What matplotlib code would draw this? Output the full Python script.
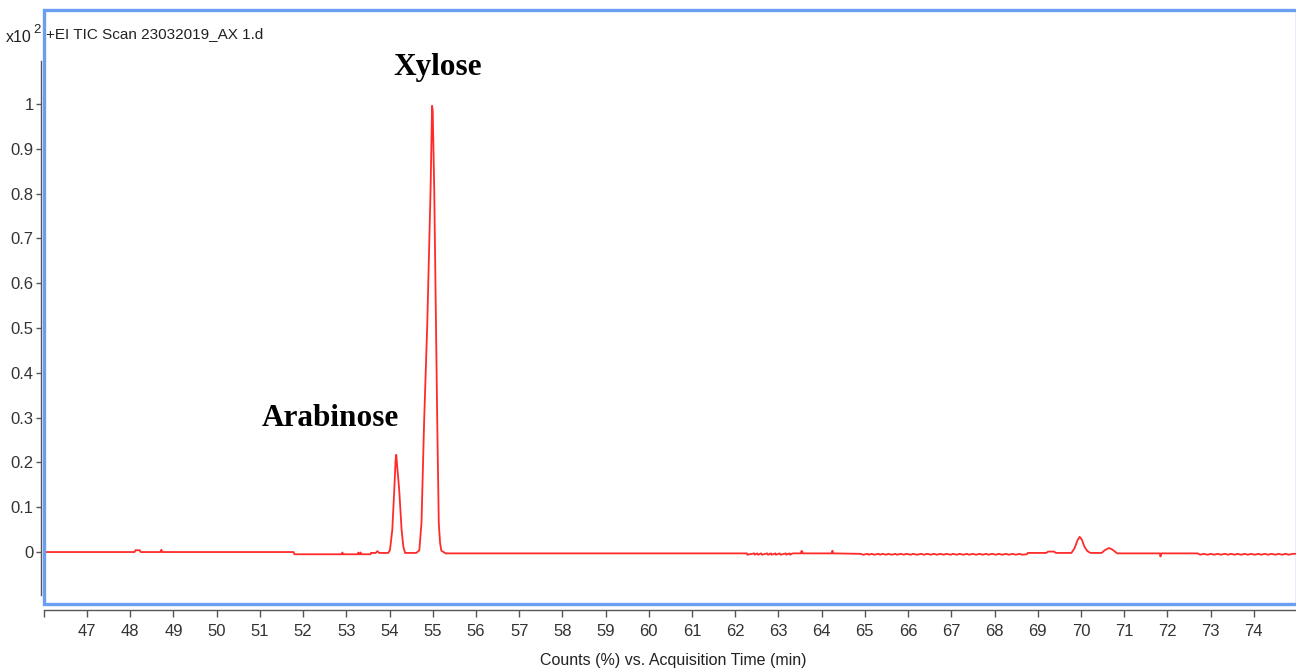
import matplotlib
matplotlib.use("Agg")
import matplotlib.pyplot as plt
from matplotlib.patches import Rectangle

plt.rcParams['font.family'] = ['Liberation Sans Narrow', 'Liberation Sans', 'DejaVu Sans']

# TIC trace (time in min, counts in x10^2 %)
time_min = [46.00, 48.10, 48.12, 48.22, 48.24, 48.70, 48.72, 48.74, 51.78, 51.80,
            52.90, 52.91, 52.92, 53.27, 53.28, 53.29, 53.32, 53.33, 53.34, 53.56,
            53.57, 53.68, 53.72, 53.76, 53.97,
            # arabinose
            54.01, 54.064, 54.11, 54.14, 54.156, 54.17, 54.225, 54.28, 54.32, 54.36,
            # xylose
            54.62, 54.69, 54.74, 54.80, 54.874, 54.95, 54.975, 54.985, 55.00, 55.035,
            55.075, 55.105, 55.14, 55.17, 55.20, 55.30,
            62.20, 62.27, 62.28, 62.44, 62.45, 62.51, 62.53, 62.60, 62.62, 62.74,
            62.76, 62.83, 62.84, 62.93, 62.94, 63.03, 63.05, 63.17, 63.18, 63.26,
            63.27, 63.33, 63.52, 63.53, 63.55, 63.56, 64.24, 64.25, 64.26,
            64.90, 64.96, 65.07, 65.09, 65.16, 65.21, 65.32, 65.35, 65.41, 65.49,
            65.54, 65.62, 65.71, 65.74, 65.83, 65.90, 65.96, 66.06, 66.12, 66.20,
            66.31, 66.36, 66.45, 66.52, 66.60, 66.67, 66.74, 66.83, 66.88, 66.99,
            67.04, 67.13, 67.19, 67.28, 67.36, 67.41, 67.50, 67.57, 67.66, 67.72,
            67.81, 67.86, 67.95, 68.03, 68.10, 68.18, 68.27, 68.33, 68.42, 68.49,
            68.58, 68.64, 68.75, 68.77,
            69.20, 69.24, 69.38, 69.42,
            # small peaks near 70 min
            69.78, 69.85, 69.92, 69.97, 70.02, 70.08, 70.15, 70.22,
            70.48, 70.55, 70.65, 70.72, 70.80, 70.84,
            71.83, 71.84, 71.86,
            72.70, 72.76, 72.84, 72.93, 73.01, 73.08, 73.17, 73.24, 73.33, 73.41,
            73.47, 73.56, 73.62, 73.71, 73.79, 73.86, 73.94, 74.02, 74.11, 74.17,
            74.26, 74.33, 74.41, 74.50, 74.57, 74.66, 74.73, 74.81, 74.90, 75.00]

counts = [0.000, 0.000, 0.004, 0.004, 0.000, 0.000, 0.005, 0.000, 0.000, -0.005,
          -0.005, -0.001, -0.005, -0.005, -0.001, -0.005, -0.005, -0.001, -0.005, -0.005,
          -0.002, -0.002, 0.002, -0.002, -0.002,
          0.004, 0.049, 0.138, 0.205, 0.217, 0.200, 0.138, 0.049, 0.012, -0.002,
          -0.002, 0.004, 0.065, 0.288, 0.510, 0.808, 0.950, 0.996, 0.985, 0.808,
          0.510, 0.288, 0.065, 0.020, 0.003, -0.003,
          -0.003, -0.003, -0.006, -0.003, -0.006, -0.003, -0.006, -0.003, -0.006, -0.003,
          -0.006, -0.003, -0.006, -0.003, -0.006, -0.003, -0.006, -0.003, -0.006, -0.003,
          -0.006, -0.003, -0.003, 0.002, 0.002, -0.003, -0.003, 0.003, -0.003,
          -0.004, -0.006, -0.004, -0.006, -0.004, -0.006, -0.004, -0.006, -0.004, -0.006,
          -0.004, -0.006, -0.004, -0.006, -0.004, -0.006, -0.004, -0.006, -0.004, -0.006,
          -0.004, -0.006, -0.004, -0.006, -0.004, -0.006, -0.004, -0.006, -0.004, -0.006,
          -0.004, -0.006, -0.004, -0.006, -0.004, -0.006, -0.004, -0.006, -0.004, -0.006,
          -0.004, -0.006, -0.004, -0.006, -0.004, -0.006, -0.004, -0.006, -0.004, -0.006,
          -0.004, -0.006, -0.005, -0.002,
          -0.002, 0.001, 0.001, -0.002,
          -0.002, 0.008, 0.026, 0.034, 0.028, 0.012, 0.002, -0.002,
          -0.002, 0.004, 0.009, 0.006, 0.000, -0.003,
          -0.003, -0.010, -0.003,
          -0.003, -0.006, -0.004, -0.006, -0.004, -0.006, -0.004, -0.006, -0.004, -0.006,
          -0.004, -0.006, -0.004, -0.006, -0.004, -0.006, -0.004, -0.006, -0.004, -0.006,
          -0.004, -0.006, -0.004, -0.006, -0.004, -0.006, -0.004, -0.006, -0.004, -0.004]

x_ticks = list(range(46, 76))
x_labels = [''] + [str(i) for i in range(47, 75)] + ['']
y_ticks = [0, 0.1, 0.2, 0.3, 0.4, 0.5, 0.6, 0.7, 0.8, 0.9, 1]
y_labels = ['0', '0.1', '0.2', '0.3', '0.4', '0.5', '0.6', '0.7', '0.8', '0.9', '1']

peak_names = ['Xylose', 'Arabinose']
peak_label_x = [55.12, 52.62]
peak_label_y = [1.065, 0.281]

fig = plt.figure(figsize=(12.96, 6.69), dpi=100)
ax = fig.add_axes([43.8 / 1296, 1 - 604 / 669, (1297 - 43.8) / 1296, (604 - 10) / 669])

ax.plot(time_min, counts, color='#ff2a2a', lw=1.3)
ax.set_xlim(46, 75)
ax.set_ylim(-0.116, 1.21)

# blue plot frame
ax.add_patch(Rectangle((0, 0), 1, 1, transform=ax.transAxes, fill=False,
                       ec='#6a9ef0', lw=2.4, clip_on=False, zorder=5))

ax.spines['top'].set_visible(False)
ax.spines['right'].set_visible(False)
ax.spines['left'].set_position(('outward', 2.2))
ax.spines['left'].set_bounds(-0.096, 1.096)
ax.spines['bottom'].set_position(('outward', 4.3))
for s in ['left', 'bottom']:
    ax.spines[s].set_color('#555555')
    ax.spines[s].set_linewidth(1)

ax.set_xticks(x_ticks)
ax.set_xticklabels(x_labels)
ax.set_yticks(y_ticks)
ax.set_yticklabels(y_labels)
ax.tick_params(axis='x', direction='out', length=5, width=1, color='#555555',
               pad=5, labelsize=12, labelcolor='#333333')
ax.tick_params(axis='y', direction='out', length=3.5, width=1, color='#555555',
               pad=1.5, labelsize=12, labelcolor='#333333')

for name, px, py in zip(peak_names, peak_label_x, peak_label_y):
    ax.text(px, py, name, ha='center', va='baseline', fontsize=22.5,
            fontweight='bold', family=['Liberation Serif', 'DejaVu Serif'])

fig.text(46 / 1296, 1 - 34 / 669, '+EI TIC Scan 23032019_AX 1.d',
         ha='left', va='center', fontsize=11, color='#222222')
fig.text(32 / 1296, 1 - 42 / 669, 'x10', ha='right', va='baseline',
         fontsize=11.5, color='#222222')
fig.text(33 / 1296, 1 - 33 / 669, '2', ha='left', va='baseline',
         fontsize=9.5, color='#222222')
fig.text(673 / 1296, 1 - 660 / 669, 'Counts (%) vs. Acquisition Time (min)',
         ha='center', va='center', fontsize=11.5, color='#222222')

fig.savefig('out.png', dpi=100)
